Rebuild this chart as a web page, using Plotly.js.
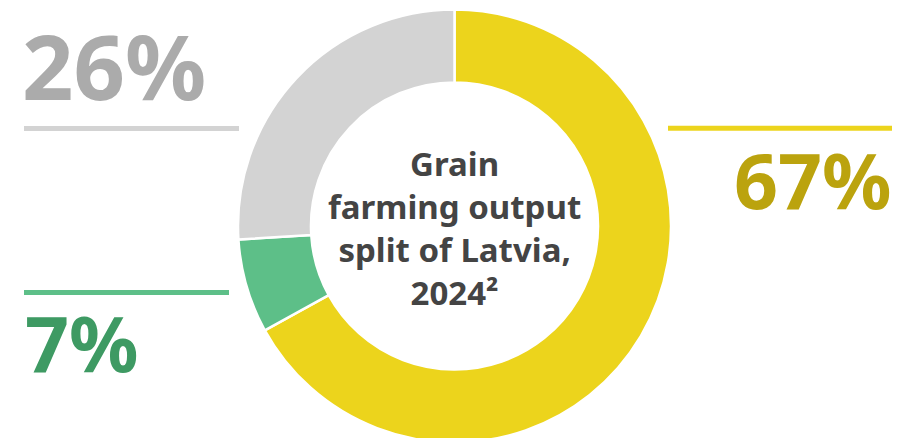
<!DOCTYPE html>
<html>
<head>
<meta charset="utf-8">
<script src="https://cdn.plot.ly/plotly-3.0.1.min.js"></script>
<style>
html,body{margin:0;padding:0;overflow:hidden;background:#fff;}
#chart{width:902px;height:460px;}
</style>
</head>
<body>
<div id="chart"></div>
<script>
const labels = ["Segment A", "Segment B", "Segment C"];
const values = [67, 7, 26];
const sliceColors = ["#ECD41C", "#5DBF88", "#D3D3D3"];
const textColors = ["#BBA30E", "#3E9A63", "#ABABAB"];
const centerTitle = "Grain<br>farming output<br>split of Latvia,<br>2024²";

const W = 902, H = 460;
const px = x => x / W;
const py = y => 1 - y / H;

const cx = 454.5, cy = 226, R = 216.5;
const FONT = "'Noto Sans', 'Open Sans', sans-serif";

const trace = {
  type: "pie",
  labels: labels,
  values: values,
  sort: false,
  direction: "clockwise",
  rotation: 0,
  hole: 0.663,
  textinfo: "none",
  hoverinfo: "none",
  marker: {colors: sliceColors, line: {color: "#ffffff", width: 2.5}},
  domain: {x: [px(cx - R), px(cx + R)], y: [py(cy + R), py(cy - R)]},
  showlegend: false
};

const pct = v => v + "%";

const annotations = [
  {text: "<b>" + centerTitle + "</b>", x: px(cx), y: py(cy + 2), xref: "paper", yref: "paper",
   showarrow: false, xanchor: "center", yanchor: "middle", align: "center",
   font: {family: FONT, size: 33, color: "#444444"}},
  {text: "<b>" + pct(values[2]) + "</b>", x: px(20), y: py(65), xref: "paper", yref: "paper",
   showarrow: false, xanchor: "left", yanchor: "middle",
   font: {family: FONT, size: 90, color: textColors[2]}},
  {text: "<b>" + pct(values[0]) + "</b>", x: px(894), y: py(179), xref: "paper", yref: "paper",
   showarrow: false, xanchor: "right", yanchor: "middle",
   font: {family: FONT, size: 77, color: textColors[0]}},
  {text: "<b>" + pct(values[1]) + "</b>", x: px(23), y: py(342), xref: "paper", yref: "paper",
   showarrow: false, xanchor: "left", yanchor: "middle",
   font: {family: FONT, size: 77, color: textColors[1]}}
];

const shapes = [
  {type: "line", xref: "paper", yref: "paper", x0: px(24), x1: px(239), y0: py(128.5), y1: py(128.5),
   line: {color: sliceColors[2], width: 5}},
  {type: "line", xref: "paper", yref: "paper", x0: px(668), x1: px(892), y0: py(128.3), y1: py(128.3),
   line: {color: sliceColors[0], width: 5}},
  {type: "line", xref: "paper", yref: "paper", x0: px(24), x1: px(229), y0: py(292.5), y1: py(292.5),
   line: {color: sliceColors[1], width: 5}}
];

const layout = {
  width: W, height: H,
  margin: {l: 0, r: 0, t: 0, b: 0, pad: 0},
  paper_bgcolor: "#ffffff",
  plot_bgcolor: "#ffffff",
  annotations: annotations,
  shapes: shapes,
  showlegend: false
};

Plotly.newPlot("chart", [trace], layout, {displayModeBar: false, staticPlot: true});
</script>
</body>
</html>
